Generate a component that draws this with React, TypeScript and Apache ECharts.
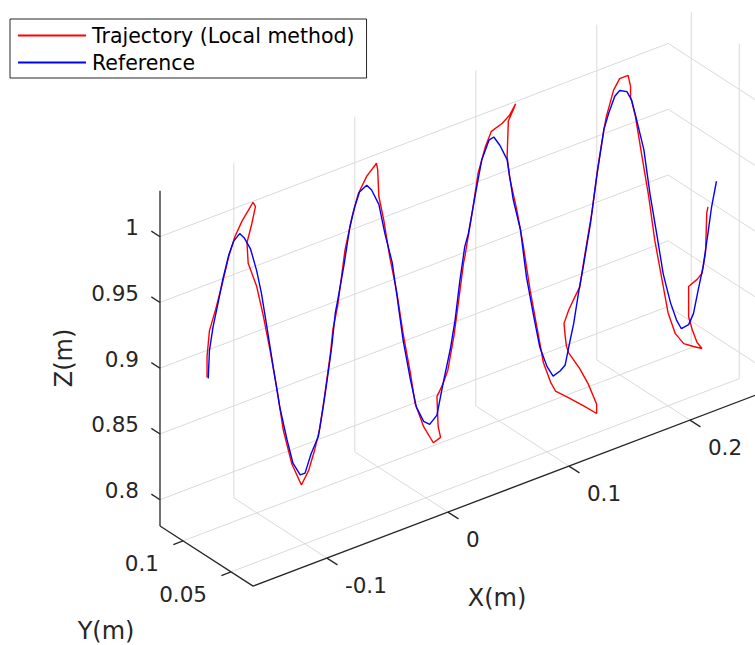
import React, { useEffect, useRef } from "react";
import * as echarts from "echarts";

// ---- axis ticks and limits (metres) ----
const X_TICKS = [-0.1, 0, 0.1, 0.2];
const Y_TICKS = [0.05, 0.1];
const Z_TICKS = [0.8, 0.85, 0.9, 0.95, 1];
const X_LIM = [-0.161, 0.259];
const Y_LIM = [0.027, 0.124];
const Z_LIM = [0.78, 1.035];

const SERIES_NAMES = ["Trajectory (Local method)", "Reference"];
const AXIS_TITLES = ["X(m)", "Y(m)", "Z(m)"];

// ---- reference trajectory [x, y, z] ----
const REFERENCE: number[][] = [
  [-0.160, 0.075, 0.915], [-0.159, 0.075, 0.936], [-0.156, 0.075, 0.953], [-0.152, 0.075, 0.969],
  [-0.148, 0.075, 0.986], [-0.143, 0.075, 1.003], [-0.139, 0.075, 1.012], [-0.134, 0.075, 1.016],
  [-0.130, 0.075, 1.011], [-0.125, 0.075, 1.001], [-0.120, 0.075, 0.983], [-0.116, 0.075, 0.964],
  [-0.112, 0.075, 0.940], [-0.106, 0.075, 0.903], [-0.101, 0.075, 0.873], [-0.095, 0.075, 0.846],
  [-0.090, 0.075, 0.826], [-0.084, 0.075, 0.815], [-0.080, 0.075, 0.815], [-0.075, 0.075, 0.828],
  [-0.069, 0.075, 0.839], [-0.065, 0.075, 0.860], [-0.061, 0.075, 0.884], [-0.058, 0.075, 0.903],
  [-0.055, 0.075, 0.928], [-0.053, 0.075, 0.937], [-0.048, 0.075, 0.961], [-0.043, 0.075, 0.989],
  [-0.039, 0.075, 1.003], [-0.035, 0.075, 1.013], [-0.029, 0.075, 1.016], [-0.025, 0.075, 1.011],
  [-0.019, 0.075, 0.998], [-0.014, 0.075, 0.974], [-0.008, 0.075, 0.950], [-0.004, 0.075, 0.923],
  [0.001, 0.075, 0.888], [0.007, 0.075, 0.856], [0.012, 0.075, 0.833], [0.018, 0.075, 0.820],
  [0.023, 0.075, 0.816], [0.029, 0.075, 0.821], [0.034, 0.075, 0.843], [0.040, 0.075, 0.867],
  [0.044, 0.075, 0.888], [0.048, 0.075, 0.917], [0.052, 0.075, 0.941], [0.055, 0.075, 0.950],
  [0.061, 0.075, 0.979], [0.066, 0.075, 1.002], [0.072, 0.075, 1.015], [0.076, 0.075, 1.016],
  [0.081, 0.075, 1.008], [0.087, 0.075, 0.995], [0.092, 0.075, 0.963], [0.098, 0.075, 0.938],
  [0.103, 0.075, 0.900], [0.109, 0.075, 0.868], [0.114, 0.075, 0.843], [0.120, 0.075, 0.826],
  [0.125, 0.075, 0.817], [0.131, 0.075, 0.819], [0.135, 0.075, 0.822], [0.138, 0.075, 0.835],
  [0.142, 0.075, 0.851], [0.146, 0.075, 0.873], [0.150, 0.075, 0.892], [0.156, 0.075, 0.923],
  [0.161, 0.075, 0.956], [0.167, 0.075, 0.990], [0.171, 0.075, 1.001], [0.176, 0.075, 1.012],
  [0.180, 0.075, 1.015], [0.186, 0.075, 1.012], [0.190, 0.075, 1.004], [0.194, 0.075, 0.988],
  [0.200, 0.075, 0.963], [0.205, 0.075, 0.928], [0.211, 0.075, 0.893], [0.216, 0.075, 0.863],
  [0.222, 0.075, 0.839], [0.227, 0.075, 0.824], [0.231, 0.075, 0.816], [0.237, 0.075, 0.817],
  [0.241, 0.075, 0.824], [0.245, 0.075, 0.841], [0.249, 0.075, 0.857], [0.253, 0.075, 0.881],
  [0.256, 0.075, 0.900], [0.260, 0.075, 0.918],
];

// ---- local-method trajectory [x, y, z] ----
const TRAJECTORY: number[][] = [
  [-0.161, 0.075, 0.916], [-0.161, 0.075, 0.932], [-0.159, 0.075, 0.951], [-0.154, 0.075, 0.965],
  [-0.149, 0.075, 0.981], [-0.143, 0.075, 1.002], [-0.138, 0.075, 1.015], [-0.132, 0.075, 1.025],
  [-0.127, 0.075, 1.031], [-0.123, 0.075, 1.036], [-0.121, 0.075, 1.032], [-0.124, 0.075, 1.020],
  [-0.128, 0.075, 1.007], [-0.127, 0.075, 0.991], [-0.120, 0.075, 0.971], [-0.115, 0.075, 0.949],
  [-0.109, 0.075, 0.919], [-0.103, 0.075, 0.886], [-0.098, 0.075, 0.854], [-0.091, 0.075, 0.826],
  [-0.083, 0.075, 0.807], [-0.077, 0.075, 0.816], [-0.072, 0.075, 0.830], [-0.068, 0.075, 0.844],
  [-0.064, 0.075, 0.867], [-0.059, 0.075, 0.899], [-0.057, 0.075, 0.916], [-0.053, 0.075, 0.933],
  [-0.047, 0.075, 0.973], [-0.041, 0.075, 0.997], [-0.036, 0.075, 1.012], [-0.029, 0.075, 1.023],
  [-0.022, 0.075, 1.029], [-0.021, 0.075, 1.030], [-0.020, 0.075, 1.025], [-0.019, 0.075, 1.004],
  [-0.015, 0.075, 0.985], [-0.010, 0.075, 0.955], [-0.004, 0.075, 0.925], [0.001, 0.075, 0.893],
  [0.007, 0.075, 0.861], [0.011, 0.075, 0.836], [0.018, 0.075, 0.816], [0.026, 0.075, 0.801],
  [0.032, 0.075, 0.803], [0.030, 0.075, 0.812], [0.029, 0.075, 0.835], [0.034, 0.075, 0.843],
  [0.038, 0.075, 0.852], [0.043, 0.075, 0.876], [0.047, 0.075, 0.902], [0.051, 0.075, 0.929],
  [0.052, 0.075, 0.933], [0.058, 0.075, 0.964], [0.063, 0.075, 0.993], [0.069, 0.075, 1.011],
  [0.074, 0.075, 1.021], [0.083, 0.075, 1.024], [0.089, 0.075, 1.028], [0.094, 0.075, 1.035],
  [0.092, 0.075, 1.031], [0.088, 0.075, 1.024], [0.087, 0.075, 0.997], [0.089, 0.075, 0.981],
  [0.095, 0.075, 0.954], [0.100, 0.075, 0.927], [0.106, 0.075, 0.889], [0.112, 0.075, 0.857],
  [0.117, 0.075, 0.830], [0.123, 0.075, 0.813], [0.127, 0.075, 0.805], [0.138, 0.075, 0.796],
  [0.151, 0.075, 0.785], [0.161, 0.075, 0.776], [0.161, 0.075, 0.783], [0.154, 0.075, 0.801],
  [0.147, 0.075, 0.815], [0.138, 0.075, 0.830], [0.136, 0.075, 0.836], [0.135, 0.075, 0.844],
  [0.134, 0.075, 0.854], [0.138, 0.075, 0.863], [0.143, 0.075, 0.871], [0.147, 0.075, 0.877],
  [0.151, 0.075, 0.899], [0.157, 0.075, 0.930], [0.162, 0.075, 0.963], [0.167, 0.075, 0.990],
  [0.169, 0.075, 0.999], [0.175, 0.075, 1.017], [0.180, 0.075, 1.024], [0.187, 0.075, 1.024],
  [0.189, 0.075, 1.015], [0.189, 0.075, 1.007], [0.193, 0.075, 0.991], [0.198, 0.075, 0.961],
  [0.204, 0.075, 0.926], [0.209, 0.075, 0.891], [0.215, 0.075, 0.859], [0.220, 0.075, 0.832],
  [0.226, 0.075, 0.814], [0.233, 0.075, 0.804], [0.241, 0.075, 0.799], [0.248, 0.075, 0.795],
  [0.244, 0.075, 0.801], [0.240, 0.075, 0.812], [0.237, 0.075, 0.823], [0.237, 0.075, 0.846],
  [0.244, 0.075, 0.849], [0.248, 0.075, 0.852], [0.251, 0.075, 0.867], [0.252, 0.075, 0.897],
  [0.253, 0.075, 0.901],
];

// ---- view / layout ----
const W = 755;
const H = 645;
const ORIGIN = [160, 526]; // pixel of corner (xmin, ymax, zmin)
const VIEW = { xh: 1210, xv: 460, yh: 960, yv: 620, z: 1315 }; // px per metre
const FONT = "DejaVu Sans";
const TEXT_COLOR = "#262626";
const GRID_COLOR = "#dadada";

function project(p: number[]): number[] {
  const dx = p[0] - X_LIM[0];
  const dy = Y_LIM[1] - p[1];
  const dz = p[2] - Z_LIM[0];
  return [dx * VIEW.xh + dy * VIEW.yh, dz * VIEW.z + dx * VIEW.xv - dy * VIEW.yv];
}

type Seg = { a: number[]; b: number[]; kind: "grid" | "axis" };

function buildSegments(): Seg[] {
  const [x0, x1] = X_LIM;
  const [y0, y1] = Y_LIM;
  const [z0, z1] = Z_LIM;
  const s: Seg[] = [];
  // back wall y = ymax
  Z_TICKS.forEach((z) => s.push({ a: [x0, y1, z], b: [x1, y1, z], kind: "grid" }));
  X_TICKS.forEach((x) => s.push({ a: [x, y1, z0], b: [x, y1, z1], kind: "grid" }));
  // side wall x = xmax
  Z_TICKS.forEach((z) => s.push({ a: [x1, y1, z], b: [x1, y0, z], kind: "grid" }));
  Y_TICKS.forEach((y) => s.push({ a: [x1, y, z0], b: [x1, y, z1], kind: "grid" }));
  // floor z = zmin
  Y_TICKS.forEach((y) => s.push({ a: [x0, y, z0], b: [x1, y, z0], kind: "grid" }));
  X_TICKS.forEach((x) => s.push({ a: [x, y0, z0], b: [x, y1, z0], kind: "grid" }));
  // axes
  s.push({ a: [x0, y1, z0], b: [x0, y1, z1], kind: "axis" });
  s.push({ a: [x0, y1, z0], b: [x0, y0, z0], kind: "axis" });
  s.push({ a: [x0, y0, z0], b: [x1, y0, z0], kind: "axis" });
  // ticks
  Z_TICKS.forEach((z) => s.push({ a: [x0, y1, z], b: [x0, y1 + 0.009, z], kind: "axis" }));
  X_TICKS.forEach((x) => s.push({ a: [x, y0, z0], b: [x, y0 - 0.011, z0], kind: "axis" }));
  Y_TICKS.forEach((y) => s.push({ a: [x0, y, z0], b: [x0 - 0.008, y, z0], kind: "axis" }));
  return s;
}

type Lab = { at: number[]; text: string; dx: number; dy: number; align: string };

function buildLabels(): Lab[] {
  const [x0] = X_LIM;
  const [y0, y1] = Y_LIM;
  const [z0] = Z_LIM;
  const l: Lab[] = [];
  Z_TICKS.forEach((z) => l.push({ at: [x0, y1, z], text: String(z), dx: -21, dy: -9, align: "right" }));
  X_TICKS.forEach((x) => l.push({ at: [x, y0, z0], text: String(x), dx: 18, dy: 27, align: "left" }));
  Y_TICKS.forEach((y) => l.push({ at: [x0, y, z0], text: String(y), dx: -24, dy: 23, align: "right" }));
  return l;
}

export default function App() {
  const ref = useRef<HTMLDivElement>(null);

  useEffect(() => {
    if (!ref.current) return;
    const chart = echarts.init(ref.current, undefined, { renderer: "svg" });
    const segs = buildSegments();
    const labels = buildLabels();

    const option: any = {
      animation: false,
      backgroundColor: "#ffffff",
      grid: { left: 0, top: 0, width: W, height: H },
      xAxis: { type: "value", min: -ORIGIN[0], max: W - ORIGIN[0], show: false },
      yAxis: { type: "value", min: -(H - ORIGIN[1]), max: ORIGIN[1], show: false },
      legend: {
        data: SERIES_NAMES,
        orient: "vertical",
        left: 10,
        top: 19,
        padding: [6, 12, 5, 7],
        itemWidth: 68,
        itemHeight: 20,
        itemGap: 6,
        borderColor: TEXT_COLOR,
        borderWidth: 1,
        backgroundColor: "#ffffff",
        selectedMode: false,
        itemStyle: { opacity: 0 },
        textStyle: { fontFamily: FONT, fontSize: 20.5, color: "#000000", padding: [0, 0, 0, 1] },
      },
      graphic: [
        {
          type: "text", x: 497, y: 598, silent: true,
          style: { text: AXIS_TITLES[0], fill: TEXT_COLOR, fontFamily: FONT, fontSize: 24, align: "center", verticalAlign: "middle" },
        },
        {
          type: "text", x: 106, y: 631, silent: true,
          style: { text: AXIS_TITLES[1], fill: TEXT_COLOR, fontFamily: FONT, fontSize: 24, align: "center", verticalAlign: "middle" },
        },
        {
          type: "text", x: 64, y: 358, rotation: Math.PI / 2, silent: true,
          style: { text: AXIS_TITLES[2], fill: TEXT_COLOR, fontFamily: FONT, fontSize: 24, align: "center", verticalAlign: "middle" },
        },
      ],
      series: [
        {
          type: "custom",
          name: "box",
          coordinateSystem: "cartesian2d",
          clip: false,
          silent: true,
          z: 1,
          data: segs.map((s) => [...project(s.a), ...project(s.b)]),
          renderItem: (params: any, api: any) => {
            const s = segs[params.dataIndex];
            const p1 = api.coord([api.value(0), api.value(1)]);
            const p2 = api.coord([api.value(2), api.value(3)]);
            return {
              type: "line",
              shape: { x1: p1[0], y1: p1[1], x2: p2[0], y2: p2[1] },
              style: s.kind === "axis"
                ? { stroke: TEXT_COLOR, lineWidth: 1.3 }
                : { stroke: GRID_COLOR, lineWidth: 1 },
            };
          },
        },
        {
          type: "custom",
          name: "ticklabels",
          coordinateSystem: "cartesian2d",
          clip: false,
          silent: true,
          z: 2,
          data: labels.map((l) => project(l.at)),
          renderItem: (params: any, api: any) => {
            const l = labels[params.dataIndex];
            const p = api.coord([api.value(0), api.value(1)]);
            return {
              type: "text",
              x: p[0] + l.dx,
              y: p[1] + l.dy,
              style: {
                text: l.text,
                fill: TEXT_COLOR,
                fontFamily: FONT,
                fontSize: 21.5,
                align: l.align,
                verticalAlign: "middle",
              },
            };
          },
        },
        {
          type: "line",
          name: SERIES_NAMES[0],
          data: TRAJECTORY.map(project),
          showSymbol: false,
          symbol: "none",
          clip: false,
          z: 3,
          lineStyle: { color: "#ff0000", width: 1.4 },
          itemStyle: { color: "#ff0000" },
        },
        {
          type: "line",
          name: SERIES_NAMES[1],
          data: REFERENCE.map(project),
          showSymbol: false,
          symbol: "none",
          clip: false,
          z: 4,
          lineStyle: { color: "#0000ff", width: 1.4 },
          itemStyle: { color: "#0000ff" },
        },
      ],
    };
    chart.setOption(option);
    return () => chart.dispose();
  }, []);

  return (
    <div
      ref={ref}
      style={{ position: "fixed", left: 0, top: 0, width: W, height: H, background: "#fff" }}
    />
  );
}
